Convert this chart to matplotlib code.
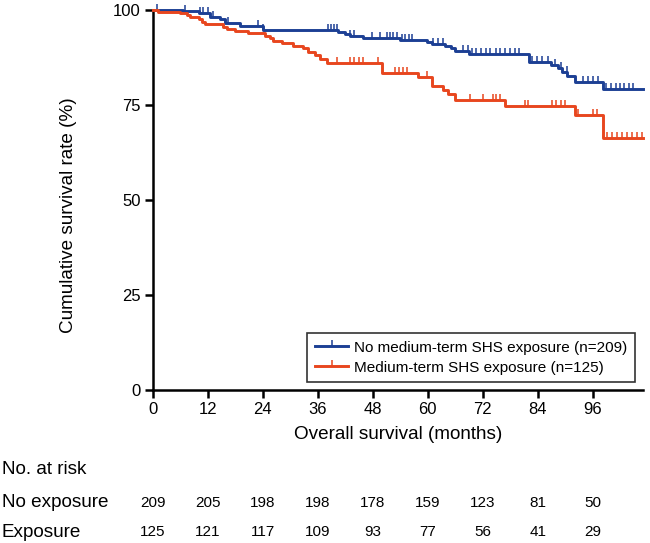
import numpy as np
import matplotlib
matplotlib.use("Agg")
import matplotlib.pyplot as plt
import matplotlib.transforms as mtransforms

plt.rcParams['font.family'] = ['Liberation Sans', 'DejaVu Sans']

BLUE = '#1c3f94'
RED = '#e8461e'

# Kaplan-Meier steps (months, survival %)
no_exp_t = [0, 6.5, 10, 12.5, 14.6, 15.7, 19, 24, 40.4, 42, 43, 45.9, 54, 59.8, 61,
            63.8, 65, 66, 69, 82, 87, 88.4, 89.3, 90.4, 92.1, 98.3, 107]
no_exp_s = [100, 99.5, 99.0, 98.0, 97.5, 96.5, 95.6, 94.6, 94.2, 93.5, 93.1, 92.6, 92.0,
            91.5, 90.9, 90.4, 89.8, 89.1, 88.4, 86.1, 85.4, 84.5, 83.6, 82.5, 80.9, 79.0, 79.0]
no_exp_cens = [0.9, 7, 10.3, 11, 12, 13.1, 16.4, 23, 24, 38.2, 38.8, 39.5, 40.1, 43, 44,
               47.8, 49.6, 51, 51.8, 52.5, 53.3, 54.4, 55.1, 55.9, 56.6, 61.1, 62.2, 63.3,
               67.7, 68.7, 69.6, 70.6, 71.6, 72.7, 73.7, 74.8, 75.8, 76.9, 77.9, 79.0, 80.0,
               82.8, 83.9, 85.0, 86.2, 87.8, 89.2, 90.3, 93.9, 95.0, 96.1, 97.2,
               99.0, 100.0, 101.0, 102.0, 102.9, 103.9, 104.8]

exp_t = [0, 1.0, 6.0, 7.4, 8.0, 10.0, 10.6, 11.4, 15.3, 16.1, 17.9, 20.7, 24.5, 25.5, 26.2,
         28.2, 30.6, 32.8, 33.8, 35.4, 36.5, 38.0, 50.0, 57.9, 60.9, 63.3, 64.4, 66.0, 76.9,
         92.1, 98.3, 107]
exp_s = [100, 99.4, 99.0, 98.5, 98.0, 97.4, 96.8, 96.2, 95.5, 94.9, 94.3, 93.7, 93.0, 92.4,
         91.8, 91.1, 90.5, 89.8, 88.9, 88.0, 87.1, 86.0, 83.2, 82.3, 80.0, 78.8, 77.7, 76.1,
         74.6, 72.2, 66.3, 66.3]
exp_cens = [40.1, 43.0, 44.0, 45.0, 45.9, 49.1, 52.8, 53.7, 54.6, 55.5, 59.8, 69.2, 72.1,
            74.2, 75.0, 75.8, 81.2, 81.9, 87.1, 88.1, 89.0, 90.0, 92.8, 96.1, 96.9,
            99.1, 100.2, 101.3, 102.4, 103.5, 104.6, 105.7, 106.8]

xticks = [0, 12, 24, 36, 48, 60, 72, 84, 96]
risk_no_exp = [209, 205, 198, 198, 178, 159, 123, 81, 50]
risk_exp = [125, 121, 117, 109, 93, 77, 56, 41, 29]


def surv_at(t_list, s_list, t):
    idx = np.searchsorted(t_list, t, side='right') - 1
    return np.asarray(s_list)[idx]


fig = plt.figure(figsize=(6.5, 5.43), dpi=100)
ax = fig.add_axes([0.2354, 0.2818, 0.7538, 0.7007])

for t, s, cens, col, lab in [
        (no_exp_t, no_exp_s, no_exp_cens, BLUE, 'No medium-term SHS exposure (n=209)'),
        (exp_t, exp_s, exp_cens, RED, 'Medium-term SHS exposure (n=125)')]:
    ax.step(t, s, where='post', color=col, lw=2.1, clip_on=False, zorder=3)
    ax.plot(cens, surv_at(t, s, np.array(cens)), ls='none', marker=2, ms=4.5,
            mew=1.1, color=col, clip_on=False, zorder=3)
    ax.plot([], [], color=col, lw=2.1, marker=2, ms=4.5, mew=1.1, label=lab)

ax.set_xlim(0, 107)
ax.set_ylim(0, 100)
ax.set_xticks(xticks)
ax.set_yticks([0, 25, 50, 75, 100])
ax.tick_params(direction='out', length=6, width=1.8, labelsize=12, pad=3)
for side in ['top', 'right']:
    ax.spines[side].set_visible(False)
for side in ['left', 'bottom']:
    ax.spines[side].set_linewidth(1.8)

ax.set_xlabel('Overall survival (months)', fontsize=13.6, labelpad=6)
ax.set_ylabel('Cumulative survival rate (%)', fontsize=13.6)
ax.yaxis.set_label_coords(-0.155, 0.46)

leg = ax.legend(loc='lower right', fontsize=11, frameon=True, fancybox=False,
                handlelength=2.2, handletextpad=0.4, borderpad=0.5,
                borderaxespad=0.5, labelspacing=0.4)
leg.get_frame().set_edgecolor('black')
leg.get_frame().set_linewidth(1.2)

# number at risk table
tr = mtransforms.blended_transform_factory(ax.transData, fig.transFigure)
fig.text(0.003, 0.136, 'No. at risk', fontsize=13.6, va='center', ha='left')
fig.text(0.003, 0.074, 'No exposure', fontsize=13.6, va='center', ha='left')
fig.text(0.003, 0.020, 'Exposure', fontsize=13.6, va='center', ha='left')
for x, a, b in zip(xticks, risk_no_exp, risk_exp):
    ax.text(x, 0.074, str(a), transform=tr, fontsize=11, ha='center', va='center')
    ax.text(x, 0.020, str(b), transform=tr, fontsize=11, ha='center', va='center')

fig.savefig('out.png', dpi=100, facecolor='white')
